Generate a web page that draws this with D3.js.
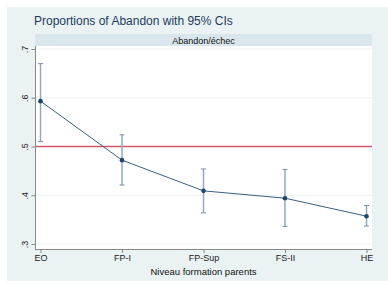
<!DOCTYPE html>
<html>
<head>
<meta charset="utf-8">
<script src="https://cdn.jsdelivr.net/npm/d3@7"></script>
<style>
  body { margin: 0; background: #fff; }
  text { font-family: "Liberation Sans", Arial, sans-serif; }
</style>
</head>
<body>
<script>
var categories = ["EO", "FP-I", "FP-Sup", "FS-II", "HE"];
var proportions = [0.593, 0.472, 0.409, 0.394, 0.357];
var ciLower = [0.51, 0.421, 0.364, 0.336, 0.337];
var ciUpper = [0.670, 0.524, 0.454, 0.453, 0.379];
var yTicks = [0.3, 0.4, 0.5, 0.6, 0.7];
var refLine = 0.5;

var width = 388, height = 284;
var svg = d3.select("body").append("svg").attr("width", width).attr("height", height);

// outer background
svg.append("rect").attr("x", 7).attr("y", 7).attr("width", width - 7).attr("height", 274)
    .attr("fill", "#eaf2f3");

var plotLeft = 35, plotRight = 372, plotTop = 46, plotBottom = 249;

svg.append("text").attr("x", 34).attr("y", 25)
    .attr("font-size", 12).attr("fill", "#1e3a5f")
    .text("Proportions of Abandon with 95% CIs");

// strip
svg.append("rect").attr("x", plotLeft).attr("y", 34).attr("width", plotRight - plotLeft).attr("height", 12)
    .attr("fill", "#d9e6eb");
svg.append("text").attr("x", (plotLeft + plotRight) / 2).attr("y", 43.5)
    .attr("text-anchor", "middle").attr("font-size", 9).attr("fill", "#111")
    .text("Abandon/échec");

svg.append("rect").attr("x", plotLeft).attr("y", plotTop).attr("width", plotRight - plotLeft)
    .attr("height", plotBottom - plotTop).attr("fill", "#fff");

var x = d3.scalePoint().domain(categories).range([40.5, 366.5]);
var y = d3.scaleLinear().domain([0.3, 0.7]).range([244, 49]);

// grid
svg.append("g").selectAll("line").data(yTicks).enter().append("line")
    .attr("x1", plotLeft).attr("x2", plotRight)
    .attr("y1", function (d) { return y(d); }).attr("y2", function (d) { return y(d); })
    .attr("stroke", "#eef2f3").attr("stroke-width", 1);

// y axis, labels vertical (read bottom to top)
var yAxis = svg.append("g").attr("transform", "translate(" + plotLeft + ",0)")
    .call(d3.axisLeft(y).tickValues(yTicks).tickSize(4).tickPadding(4)
        .tickFormat(function (d) { return d3.format(".1f")(d).replace(/^0/, ""); }));
yAxis.select(".domain").attr("d", "M0.5," + plotTop + "V" + plotBottom).attr("stroke", "#888");
yAxis.selectAll(".tick line").attr("stroke", "#888").attr("transform", "translate(0.5,0)");
yAxis.selectAll(".tick text")
    .attr("font-size", 9).attr("fill", "#222")
    .attr("x", null).attr("dy", null)
    .attr("text-anchor", "middle")
    .attr("transform", "translate(-10,0) rotate(-90)")
    .attr("y", 0).attr("dy", "0.32em");

// x axis
var xAxis = svg.append("g").attr("transform", "translate(0," + plotBottom + ")")
    .call(d3.axisBottom(x).tickSize(4).tickPadding(2));
xAxis.select(".domain").attr("d", "M" + plotLeft + ",0.5H" + plotRight).attr("stroke", "#888");
xAxis.selectAll(".tick line").attr("stroke", "#888");
xAxis.selectAll(".tick text").attr("font-size", 9).attr("fill", "#222");

svg.append("text").attr("x", (plotLeft + plotRight) / 2).attr("y", 275)
    .attr("text-anchor", "middle").attr("font-size", 9.5).attr("fill", "#111")
    .text("Niveau formation parents");

// reference line
svg.append("line").attr("x1", plotLeft + 1).attr("x2", plotRight)
    .attr("y1", y(refLine)).attr("y2", y(refLine))
    .attr("stroke", "#d0566e").attr("stroke-width", 1.3);

// error bars
var bars = svg.append("g");
categories.forEach(function (c, i) {
    var cx = x(c);
    bars.append("line").attr("x1", cx).attr("x2", cx)
        .attr("y1", y(ciLower[i])).attr("y2", y(ciUpper[i]))
        .attr("stroke", "#90a8c0").attr("stroke-width", 1.5);
    [ciLower[i], ciUpper[i]].forEach(function (v) {
        bars.append("line").attr("x1", cx - 2.5).attr("x2", cx + 2.5)
            .attr("y1", y(v)).attr("y2", y(v))
            .attr("stroke", "#7890aa").attr("stroke-width", 1);
    });
});

var line = d3.line()
    .x(function (d, i) { return x(categories[i]); })
    .y(function (d) { return y(d); });

svg.append("path").attr("d", line(proportions))
    .attr("fill", "none").attr("stroke", "#3a5f85").attr("stroke-width", 1);

svg.selectAll("circle.pt").data(proportions).enter().append("circle")
    .attr("class", "pt")
    .attr("cx", function (d, i) { return x(categories[i]); })
    .attr("cy", function (d) { return y(d); })
    .attr("r", 2.3)
    .attr("fill", "#1a476f");
</script>
</body>
</html>
